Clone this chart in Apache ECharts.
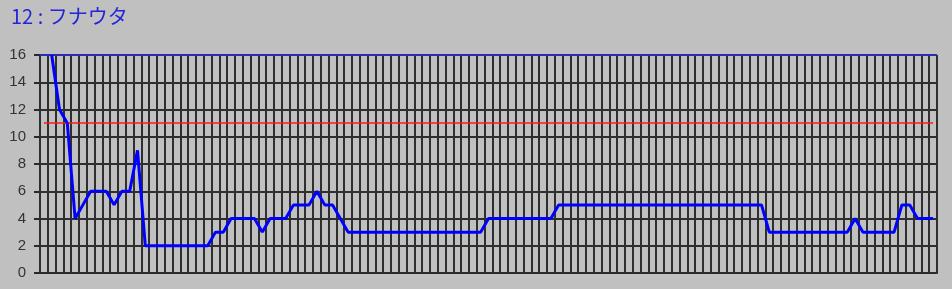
<!DOCTYPE html>
<html>
<head>
<meta charset="utf-8">
<script src="https://cdn.jsdelivr.net/npm/echarts@6/dist/echarts.min.js"></script>
<style>
html,body{margin:0;padding:0;background:#C0C0C0;}
#chart{width:952px;height:289px;}
</style>
</head>
<body>
<div id="chart"></div>
<script>
const titleText = '12 : フナウタ';
const categories = [];
for (let i = 0; i <= 114; i++) categories.push(String(i));
const values = [null,
  16, 12, 11, 4, 5, 6, 6, 6, 5, 6, 6, 9,
  2, 2, 2, 2, 2, 2, 2, 2, 2,
  3, 3,
  4, 4, 4, 4,
  3,
  4, 4, 4,
  5, 5, 5,
  6,
  5, 5,
  4,
  3, 3, 3, 3, 3, 3, 3, 3, 3, 3, 3, 3, 3, 3, 3, 3, 3, 3,
  4, 4, 4, 4, 4, 4, 4, 4, 4,
  5, 5, 5, 5, 5, 5, 5, 5, 5, 5, 5, 5, 5, 5, 5, 5, 5, 5, 5, 5, 5, 5, 5, 5, 5, 5, 5,
  3, 3, 3, 3, 3, 3, 3, 3, 3, 3, 3,
  4,
  3, 3, 3, 3, 3,
  5, 5,
  4, 4, 4
];
const upperLine = 16;
const thresholdLine = 11;
const yMin = 0, yMax = 16, yStep = 2;

const chart = echarts.init(document.getElementById('chart'), null, {renderer: 'canvas'});
chart.setOption({
  backgroundColor: '#C0C0C0',
  animation: false,
  title: {
    text: titleText,
    left: 6, top: 1,
    textStyle: {color: '#2424d8', fontSize: 20, fontWeight: 'normal', fontFamily: '"Noto Sans CJK JP", "DejaVu Sans", sans-serif'}
  },
  grid: {left: 40, right: 15, top: 55, bottom: 16, containLabel: false},
  xAxis: {
    type: 'category',
    data: categories,
    boundaryGap: true,
    axisLine: {show: true, lineStyle: {color: '#2a2a2a', width: 2}},
    axisTick: {show: false},
    axisLabel: {show: false},
    splitLine: {show: true, interval: 0, lineStyle: {color: '#2e2e2e', width: 2}}
  },
  yAxis: {
    type: 'value',
    min: yMin, max: yMax, interval: yStep,
    axisLine: {show: false},
    axisTick: {show: true, length: 6, lineStyle: {color: '#2a2a2a', width: 2}},
    axisLabel: {color: '#333', fontSize: 15, margin: 14, fontFamily: '"Liberation Sans", Arial, sans-serif'},
    splitLine: {show: true, lineStyle: {color: '#2e2e2e', width: 2}}
  },
  series: [{
    type: 'line',
    data: values,
    showSymbol: false,
    symbol: 'none',
    connectNulls: false,
    lineStyle: {color: '#0000FF', width: 3},
    z: 5,
    markLine: {
      silent: true,
      symbol: 'none',
      label: {show: false},
      animation: false,
      data: [
        [{xAxis: 0, yAxis: thresholdLine, lineStyle: {color: '#FF1a1a', width: 1.5, type: 'solid'}},
         {xAxis: 114, yAxis: thresholdLine}],
        {yAxis: upperLine, lineStyle: {color: '#2a2ae0', width: 1.5, type: 'solid'}}
      ]
    }
  }]
});
</script>
</body>
</html>
